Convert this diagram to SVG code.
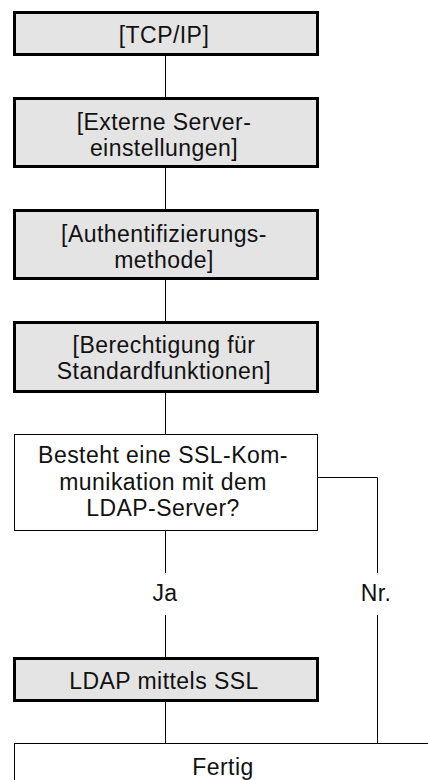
<svg xmlns="http://www.w3.org/2000/svg" width="428" height="780" viewBox="0 0 428 780">
<style>
.step{fill:#e4e4e4;stroke:#000;stroke-width:3}
.plain{fill:#fff;stroke:#000;stroke-width:1}
.lbl{font-family:"Liberation Sans",Arial,Helvetica,sans-serif;font-size:23px;letter-spacing:0.45px;fill:#111;text-anchor:middle}
.conn{stroke:#000;stroke-width:1;fill:none}
</style>
<rect width="428" height="780" fill="#fff"/>
<g id="connectors">
<line class="conn" x1="165.5" y1="56" x2="165.5" y2="97"/>
<line class="conn" x1="165.5" y1="168" x2="165.5" y2="209"/>
<line class="conn" x1="165.5" y1="280" x2="165.5" y2="321"/>
<line class="conn" x1="165.5" y1="392" x2="165.5" y2="434"/>
<line class="conn" x1="165.5" y1="530" x2="165.5" y2="573"/>
<line class="conn" x1="165.5" y1="615" x2="165.5" y2="657"/>
<line class="conn" x1="165.5" y1="702" x2="165.5" y2="745"/>
<polyline class="conn" points="317,477.5 377.5,477.5 377.5,573"/>
<line class="conn" x1="377.5" y1="615" x2="377.5" y2="743"/>
<text class="lbl" x="165" y="601">Ja</text>
<text class="lbl" x="376" y="601">Nr.</text>
</g>
<g id="n1">
<rect class="step" x="14.5" y="12.5" width="303" height="42"/>
<text class="lbl" x="164" y="43">[TCP/IP]</text>
</g>
<g id="n2">
<rect class="step" x="14.5" y="98.5" width="303" height="68"/>
<text class="lbl" x="164" y="130">[Externe Server-</text>
<text class="lbl" x="164" y="156">einstellungen]</text>
</g>
<g id="n3">
<rect class="step" x="14.5" y="210.5" width="303" height="68"/>
<text class="lbl" x="164" y="242">[Authentifizierungs-</text>
<text class="lbl" x="164" y="268">methode]</text>
</g>
<g id="n4">
<rect class="step" x="14.5" y="322.5" width="303" height="69"/>
<text class="lbl" x="164" y="353">[Berechtigung für</text>
<text class="lbl" x="164" y="379">Standardfunktionen]</text>
</g>
<g id="n5">
<rect class="plain" x="14.5" y="434.5" width="303" height="96"/>
<text class="lbl" x="163" y="463">Besteht eine SSL-Kom-</text>
<text class="lbl" x="163" y="490">munikation mit dem</text>
<text class="lbl" x="163" y="516">LDAP-Server?</text>
</g>
<g id="n6">
<rect class="step" x="14.5" y="658.5" width="303" height="42"/>
<text class="lbl" x="164" y="689">LDAP mittels SSL</text>
</g>
<g id="n7">
<rect class="plain" x="14.5" y="743.5" width="430" height="60"/>
<text class="lbl" x="223" y="775">Fertig</text>
</g>
</svg>
